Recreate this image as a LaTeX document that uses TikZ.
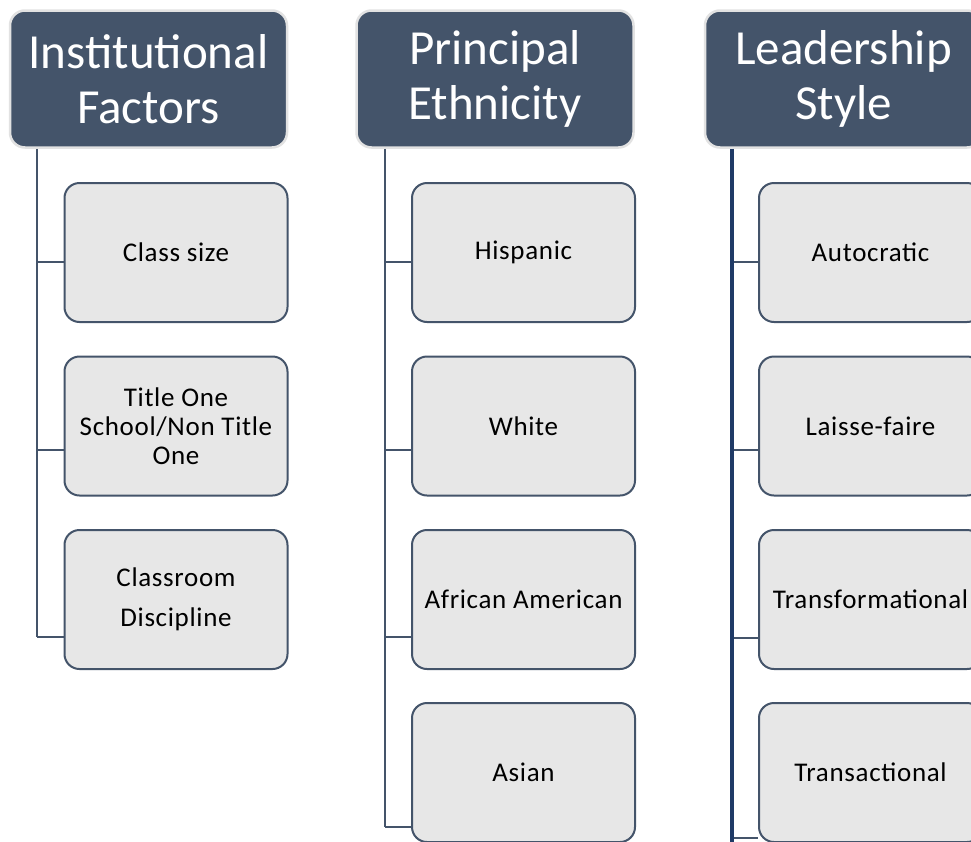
\documentclass[tikz,border=0pt]{standalone}
\usepackage{fontspec}
\setmainfont{Carlito}
\newfontfamily\itemfont[LetterSpace=2.5]{Carlito}
\definecolor{slate}{HTML}{44546A}
\definecolor{navy}{HTML}{1F3A66}
\definecolor{paleface}{HTML}{E7E7E7}
\definecolor{rim}{HTML}{E2E2E2}
\tikzset{
  header/.style={rectangle, rounded corners=15pt, fill=slate, draw=rim, line width=2.5pt,
    minimum width=277pt, minimum height=137pt, inner sep=0pt, text=white, align=center,
    font=\fontsize{49}{55}\selectfont},
  item/.style={rectangle, rounded corners=15pt, fill=paleface, draw=slate, line width=2pt,
    minimum width=223pt, minimum height=139pt, inner sep=0pt, text=black, align=center,
    font=\itemfont\fontsize{27}{29}\selectfont},
  conn/.style={draw=slate, line width=2.8pt},
  twig/.style={draw=slate, line width=2.2pt},
  spine/.style={draw=navy, line width=4pt}
}
\begin{document}
\begin{tikzpicture}[x=1pt, y=-1pt]
  \clip (0,0) rectangle (971,841);
  \fill[white] (0,0) rectangle (971,841);

  % branch points on the three trunks
  \coordinate (j11) at (37,262);
  \coordinate (j12) at (37,450);
  \coordinate (j13) at (37,637);
  \coordinate (j21) at (385,262);
  \coordinate (j22) at (385,450);
  \coordinate (j23) at (385,637);
  \coordinate (j24) at (385,827);
  \coordinate (j31) at (732,262);
  \coordinate (j32) at (732,450);
  \coordinate (j33) at (732,638);
  \coordinate (j34) at (732,838);
  \coordinate (j3end) at (732,845);

  % category headers
  \node[header] (h1) at (148.5,79) {Institutional\\Factors};
  \node[header] (h2) at (495,79) {Principal\\Ethnicity};
  \node[header] (h3) at (843.5,79) {Leadership\\Style};

  % trunks of the first two columns
  \draw[conn] (h1.south -| j11) -- (j13);
  \draw[conn] (h2.south -| j21) -- (j24);

  % first column items
  \node[item] (c11) at (176,252.5) {Class size};
  \node[item] (c12) at (176,426) {Title One\\School/Non Title\\One};
  \node[item, font=\itemfont\fontsize{27}{40}\selectfont] (c13) at (176,599.5) {Classroom\\Discipline};

  % second column items
  \node[item] (c21) at (523.5,252.5) {Hispanic};
  \node[item] (c22) at (523.5,426) {White};
  \node[item] (c23) at (523.5,599.5) {African American};
  \node[item] (c24) at (523.5,772.5) {Asian};

  % third column items
  \node[item] (c31) at (870.5,252.5) {Autocratic};
  \node[item] (c32) at (870.5,426) {Laisse-faire};
  \node[item] (c33) at (870.5,599.5) {Transformational};
  \node[item] (c34) at (870.5,772.5) {Transactional};

  % twigs from trunks to items
  \draw[twig] (j11) -- (j11 -| c11.west);
  \draw[twig] (j12) -- (j12 -| c12.west);
  \draw[twig] (j13) -- (j13 -| c13.west);
  \draw[twig] (j21) -- (j21 -| c21.west);
  \draw[twig] (j22) -- (j22 -| c22.west);
  \draw[twig] (j23) -- (j23 -| c23.west);
  \draw[twig] (j24) -- (j24 -| c24.west);
  \draw[twig] (j31) -- (j31 -| c31.west);
  \draw[twig] (j32) -- (j32 -| c32.west);
  \draw[twig] (j33) -- (j33 -| c33.west);
  \draw[twig] (j34) -- (j34 -| c34.west);
  \draw[spine] (h3.south -| j31) -- (j3end);
\end{tikzpicture}
\end{document}
